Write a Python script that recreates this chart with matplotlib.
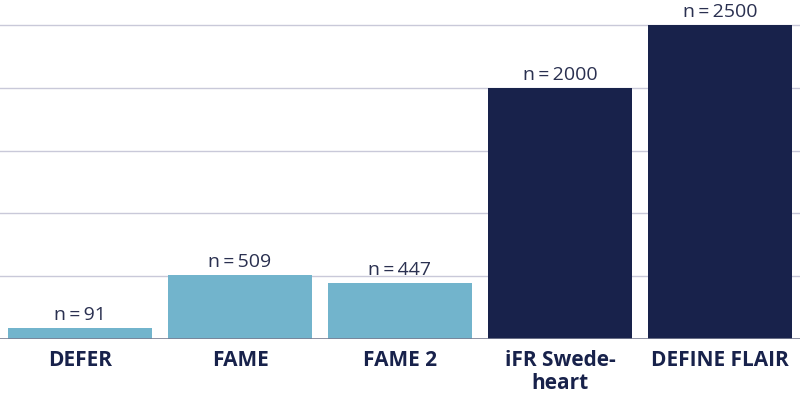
import matplotlib.pyplot as plt

studies = ["DEFER", "FAME", "FAME 2", "iFR Swede-\nheart", "DEFINE FLAIR"]
patients = [91, 509, 447, 2000, 2500]
bar_colors = ["#72b4cc", "#72b4cc", "#72b4cc", "#18224b", "#18224b"]

plt.rcParams['font.family'] = ['Open Sans', 'DejaVu Sans']

fig = plt.figure(figsize=(8.0, 3.95), dpi=100)
ax = fig.add_axes([0, 0.1418, 1, 0.8582])

x = range(len(studies))
ax.bar(x, patients, width=0.9, color=bar_colors, zorder=2)

# value labels above the bars
for xi, n in zip(x, patients):
    ax.text(xi, n + 30, f"n\u2009=\u2009{n}", ha="center", va="bottom",
            fontsize=14, color="#2a3050", zorder=3)

ax.set_xlim(-0.5, len(studies) - 0.5)
ax.set_ylim(0, 2699)
ax.set_yticks([500, 1000, 1500, 2000, 2500])
ax.yaxis.grid(True, color="#c9c9d9", linewidth=1, zorder=0)
ax.axhline(0, color="#7a7f93", linewidth=1.2, zorder=3)

ax.set_xticks(list(x))
ax.set_xticklabels(studies, fontsize=15, fontweight="bold", color="#18224b",
                   linespacing=1.1, va="top")
ax.tick_params(axis="x", length=0, pad=8)
ax.tick_params(axis="y", length=0, labelleft=False)
for s in ax.spines.values():
    s.set_visible(False)

plt.savefig("out.png", dpi=100)
